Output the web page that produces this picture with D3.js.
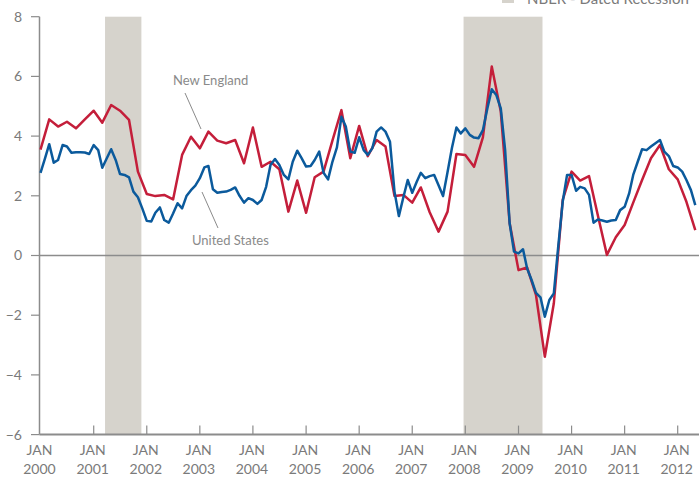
<!DOCTYPE html>
<html>
<head>
<meta charset="utf-8">
<script src="https://cdn.jsdelivr.net/npm/d3@7"></script>
<style>
  body { margin: 0; background: #fff; }
  svg { display: block; }
</style>
</head>
<body>
<div id="chart"></div>
<script>
// New England: bimonthly points (Jan, Mar, May, Jul, Sep, Nov) starting Jan 2000
const neStart = "2000-01";
const neValues = [
  3.55, 4.56, 4.32, 4.48, 4.26, 4.56,
  4.85, 4.45, 5.04, 4.85, 4.54, 2.81,
  2.06, 1.99, 2.03, 1.88, 3.37, 3.98,
  3.59, 4.15, 3.85, 3.76, 3.87, 3.09,
  4.29, 2.97, 3.14, 2.89, 1.47, 2.51,
  1.43, 2.62, 2.81, 3.85, 4.87, 3.26,
  4.34, 3.33, 3.87, 3.65, 1.99, 2.03,
  1.77, 2.28, 1.45, 0.80, 1.47, 3.40,
  3.37, 2.97, 3.96, 6.33, 4.82, 1.08,
  -0.49, -0.40, -1.32, -3.39, -1.60, 1.86,
  2.81, 2.51, 2.66, 1.34, 0.02, 0.61,
  1.02, 1.77, 2.53, 3.26, 3.70, 2.89,
  2.55, 1.80, 0.85
];

// United States: monthly points starting Jan 2000
const usStart = "2000-01";
const usValues = [
  2.77, 3.25, 3.73, 3.11, 3.20, 3.70, 3.65, 3.44, 3.46, 3.46, 3.45, 3.40,
  3.70, 3.53, 2.94, 3.26, 3.56, 3.20, 2.73, 2.70, 2.62, 2.14, 1.95, 1.58,
  1.16, 1.14, 1.43, 1.61, 1.19, 1.10, 1.41, 1.75, 1.58, 1.99, 2.19, 2.34,
  2.59, 2.95, 3.00, 2.22, 2.10, 2.13, 2.14, 2.20, 2.28, 2.00, 1.77, 1.92,
  1.86, 1.73, 1.86, 2.30, 3.03, 3.23, 3.03, 2.70, 2.55, 3.14, 3.51, 3.26,
  2.98, 3.00, 3.20, 3.48, 2.77, 2.55, 3.14, 3.62, 4.65, 4.32, 3.48, 3.44,
  3.96, 3.53, 3.37, 3.59, 4.15, 4.29, 4.15, 3.81, 2.14, 1.32, 1.95, 2.53,
  2.10, 2.47, 2.77, 2.59, 2.66, 2.70, 2.35, 1.99, 2.80, 3.60, 4.29, 4.09,
  4.26, 4.04, 3.95, 3.93, 4.20, 4.93, 5.57, 5.38, 4.93, 3.53, 1.08, 0.13,
  0.07, 0.21, -0.43, -0.82, -1.25, -1.40, -2.05, -1.49, -1.27, 0.29, 1.80, 2.70,
  2.70, 2.17, 2.30, 2.25, 2.03, 1.10, 1.21, 1.17, 1.13, 1.17, 1.19, 1.52,
  1.63, 2.08, 2.70, 3.14, 3.56, 3.53, 3.65, 3.76, 3.87, 3.48, 3.33, 3.00,
  2.95, 2.81, 2.53, 2.19, 1.69
];

// NBER recessions [start, end]
const recessions = [
  ["2001-03-20", "2001-11-25"],
  ["2007-12-20", "2009-06-15"]
];

const yearTicks = d3.range(2000, 2013);
const yTicks = [-6, -4, -2, 0, 2, 4, 6, 8];

const width = 699, height = 481;
const parseMonth = d3.timeParse("%Y-%m");
const parseDay = d3.timeParse("%Y-%m-%d");

const neData = neValues.map((v, i) => ({ date: d3.timeMonth.offset(parseMonth(neStart), i * 2), value: v }));
const usData = usValues.map((v, i) => ({ date: d3.timeMonth.offset(parseMonth(usStart), i), value: v }));

const svg = d3.select("#chart").append("svg")
  .attr("width", width)
  .attr("height", height)
  .attr("font-family", "Lato, 'Open Sans', sans-serif");

const x = d3.scaleTime()
  .domain([new Date(2000, 0, 1), new Date(2012, 0, 1)])
  .range([40.5, 677.7]);

const y = d3.scaleLinear()
  .domain([-6, 8])
  .range([434.6, 16.7]);

// recession bands
svg.selectAll(".rec")
  .data(recessions)
  .enter().append("rect")
  .attr("x", d => x(parseDay(d[0])))
  .attr("y", y(8))
  .attr("width", d => x(parseDay(d[1])) - x(parseDay(d[0])))
  .attr("height", y(-6) - y(8))
  .attr("fill", "#d6d3cc");

// legend (cut off at the top edge, as in the original)
svg.append("rect")
  .attr("x", 502).attr("y", -9)
  .attr("width", 12).attr("height", 12)
  .attr("fill", "#d6d3cc");
svg.append("text")
  .attr("x", 527).attr("y", 3.5)
  .attr("font-size", 15)
  .attr("fill", "#7a7a7a")
  .text("NBER - Dated Recession");

// zero line
svg.append("line")
  .attr("x1", 39.5).attr("x2", width)
  .attr("y1", y(0)).attr("y2", y(0))
  .attr("stroke", "#8c8c8c")
  .attr("stroke-width", 1.5);

// y axis
svg.append("line")
  .attr("x1", 39.5).attr("x2", 39.5)
  .attr("y1", y(8)).attr("y2", y(-6))
  .attr("stroke", "#8c8c8c")
  .attr("stroke-width", 1.5);

svg.selectAll(".ytick")
  .data(yTicks)
  .enter().append("line")
  .attr("x1", 31).attr("x2", 39.5)
  .attr("y1", d => y(d)).attr("y2", d => y(d))
  .attr("stroke", "#8c8c8c")
  .attr("stroke-width", 1.2);

svg.selectAll(".ylabel")
  .data(yTicks)
  .enter().append("text")
  .attr("x", 22)
  .attr("y", d => y(d))
  .attr("dy", "0.35em")
  .attr("text-anchor", "end")
  .attr("font-size", 14)
  .attr("fill", "#7a7a7a")
  .text(d => d < 0 ? "\u2212" + Math.abs(d) : d);

// x axis
svg.append("line")
  .attr("x1", 39.5).attr("x2", width)
  .attr("y1", y(-6)).attr("y2", y(-6))
  .attr("stroke", "#8c8c8c")
  .attr("stroke-width", 2);

svg.selectAll(".xtick")
  .data(yearTicks.slice(1))
  .enter().append("line")
  .attr("x1", d => x(new Date(d, 0, 1))).attr("x2", d => x(new Date(d, 0, 1)))
  .attr("y1", y(-6) - 9).attr("y2", y(-6))
  .attr("stroke", "#8c8c8c")
  .attr("stroke-width", 1.2);

const xl = svg.selectAll(".xlabel")
  .data(yearTicks)
  .enter().append("text")
  .attr("text-anchor", "middle")
  .attr("font-size", 14)
  .attr("fill", "#7a7a7a");
xl.append("tspan")
  .attr("x", d => x(new Date(d, 0, 1)) - 1)
  .attr("y", 455)
  .text("JAN");
xl.append("tspan")
  .attr("x", d => x(new Date(d, 0, 1)) - 1)
  .attr("y", 474)
  .text(d => d);

// lines
const line = d3.line()
  .x(d => x(d.date))
  .y(d => y(d.value));

svg.append("path")
  .datum(neData)
  .attr("d", line)
  .attr("fill", "none")
  .attr("stroke", "#c41e3a")
  .attr("stroke-width", 2.5)
  .attr("stroke-linejoin", "round");

svg.append("path")
  .datum(usData)
  .attr("d", line)
  .attr("fill", "none")
  .attr("stroke", "#0b5a9c")
  .attr("stroke-width", 2.5)
  .attr("stroke-linejoin", "round");

// annotations
svg.append("text")
  .attr("x", 173).attr("y", 84.5)
  .attr("font-size", 13)
  .attr("fill", "#8a8a8a")
  .text("New England");
svg.append("line")
  .attr("x1", 185).attr("y1", 93)
  .attr("x2", 201).attr("y2", 129)
  .attr("stroke", "#8a8a8a")
  .attr("stroke-width", 1);

svg.append("text")
  .attr("x", 192).attr("y", 244.5)
  .attr("font-size", 13)
  .attr("fill", "#8a8a8a")
  .text("United States");
svg.append("line")
  .attr("x1", 202).attr("y1", 192)
  .attr("x2", 218).attr("y2", 228)
  .attr("stroke", "#8a8a8a")
  .attr("stroke-width", 1);
</script>
</body>
</html>
